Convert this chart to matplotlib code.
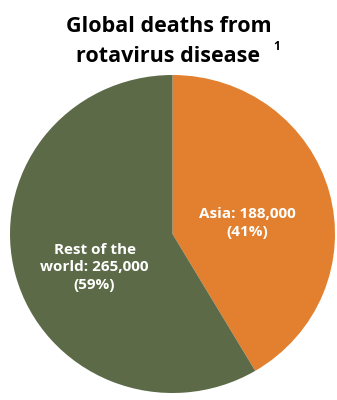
import matplotlib.pyplot as plt

regions = ['Asia', 'Rest of the\nworld']
deaths = [188000, 265000]
shares = [41, 59]
colors = ['#E2802F', '#5C6A47']

plt.rcParams['font.family'] = ['Open Sans', 'DejaVu Sans']

fig = plt.figure(figsize=(3.37, 4.0), dpi=100)
ax = fig.add_axes([10 / 337, 7 / 400, 325 / 337, 318 / 400])

wedges, _ = ax.pie(deaths, colors=colors, startangle=90, counterclock=False,
                   radius=1.0)
ax.set_aspect('auto')
ax.set_xlim(-1, 1)
ax.set_ylim(-1, 1)

# slice labels
ax.text(0.46, 0.07, f'{regions[0]}: {deaths[0]:,}\n({shares[0]}%)',
        ha='center', va='center', color='white', fontsize=11,
        fontweight='bold', linespacing=1.3)
ax.text(-0.48, -0.21, f'{regions[1]}: {deaths[1]:,}\n({shares[1]}%)',
        ha='center', va='center', color='white', fontsize=11,
        fontweight='bold', linespacing=1.3)

fig.text(0.5, 1 - 26 / 400, 'Global deaths from', ha='center', va='center',
         fontsize=15.5, fontweight='bold')
fig.text(0.5, 1 - 57 / 400, 'rotavirus disease', ha='center', va='center',
         fontsize=15.5, fontweight='bold')
fig.text(273 / 337, 1 - 46 / 400, '1', ha='left', va='center',
         fontsize=8.5, fontweight='bold')

fig.savefig('out.png', dpi=100)
